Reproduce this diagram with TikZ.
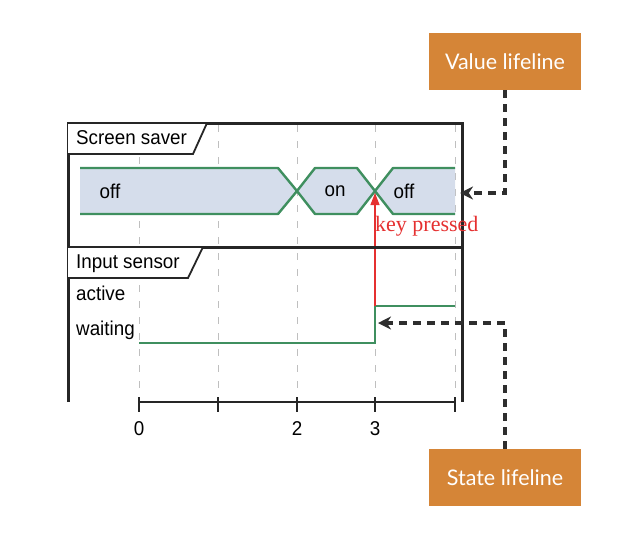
\documentclass[tikz,border=0pt]{standalone}
\usepackage{fontspec}
\setmainfont{Liberation Sans}[FakeStretch=0.94]
\newfontfamily\calloutfont{Lato}
\newfontfamily\notefont{Liberation Serif}
\usetikzlibrary{positioning,arrows.meta}
\definecolor{bandfill}{HTML}{D5DDEB}
\definecolor{bandline}{HTML}{3F8F5F}
\definecolor{callout}{HTML}{D58537}
\definecolor{ink}{HTML}{2E2E2E}
\definecolor{keyred}{HTML}{E53030}

\begin{document}
\begin{tikzpicture}[
    x=1pt, y=-1pt,
    font=\fontsize{20}{22}\selectfont,
    frame/.style={draw=black!85, line width=3pt},
    tab/.style={draw=black!85, line width=1.8pt, fill=white},
    gridline/.style={draw=black!25, line width=0.8pt, dash pattern=on 7pt off 9pt},
    bandedge/.style={draw=bandline, line width=2.4pt, line join=round},
    steptrace/.style={draw=bandline, line width=2.6pt},
    lanetext/.style={anchor=west, inner sep=0pt},
    calloutbox/.style={fill=callout, text=white, minimum width=152pt, minimum height=57pt, font=\calloutfont\fontsize{21.5}{23}\selectfont},
    lifeline/.style={draw=ink, line width=3.4pt, dash pattern=on 8pt off 6pt, -{Stealth[length=13pt, width=13pt]}}
]
\useasboundingbox (0,0) rectangle (629,550);

% ====================
%     Grid and axis
% ====================
\foreach \t in {139,218,297,375,455}{
  \draw[gridline] (\t,125) -- (\t,396);
  \draw[line width=2.6pt, black!85] (\t,397) -- (\t,412);
}
\draw[line width=2.8pt, black!85] (139,402) -- (455,402);
\node (t0) at (139,429) {0};
\node (t2) at (297,429) {2};
\node (t3) at (375,429) {3};

% ====================
%     Screen saver
% ====================
\fill[bandfill] (80,168) -- (278,168) -- (297,191) -- (278,214) -- (80,214) -- cycle;
\draw[bandedge] (80,168) -- (278,168) -- (297,191) -- (278,214) -- (80,214);
\filldraw[bandedge, fill=bandfill] (297,191) -- (315,168) -- (357,168) -- (375,191) -- (357,214) -- (315,214) -- cycle;
\fill[bandfill] (375,191) -- (393,168) -- (455,168) -- (455,214) -- (393,214) -- cycle;
\draw[bandedge] (455,168) -- (393,168) -- (375,191) -- (393,214) -- (455,214);

\node (off_a) at (110,191) {off};
\node (on_b) at (335,191) {on};
\node (off_c) at (404,191) {off};

% ====================
%     Input sensor
% ====================
\draw[steptrace] (139,343) -- (375,343) -- (375,306) -- (455,306);
\node[lanetext] (active) at (76,293) {active};
\node[lanetext] (waiting) at (76,330) {waiting};

% Key pressed message
\coordinate (key_from) at (375,306);
\coordinate (key_to) at (375,193);
\draw[keyred, line width=1.2pt, -{Triangle[length=12pt, width=9pt]}] (key_from) -- (key_to);

% ====================
%     Frame and tabs
% ====================
\draw[frame] (68,402) -- (68,123) -- (462,123) -- (462,402);
\draw[frame] (68,247) -- (462,247);
\draw[tab] (68,123) -- (207,123) -- (193,154) -- (68,154);
\draw[tab] (68,247) -- (203,247) -- (188,278) -- (68,278);
\node[lanetext] (saver_name) at (76,138) {Screen saver};
\node[lanetext] (sensor_name) at (76,264) {Input sensor};
\node[anchor=base west, inner sep=0pt, text=keyred, font=\notefont\fontsize{22}{24}\selectfont] (key_label) at (375,231) {key pressed};

% ====================
%     Callouts
% ====================
\node[calloutbox] (value_box) at (505,61.5) {Value lifeline};
\node[calloutbox] (state_box) at (505,477.5) {State lifeline};
\coordinate (value_tip) at (460,193);
\coordinate (state_tip) at (378,323);
\draw[lifeline] (value_box.south) |- (value_tip);
\draw[lifeline] (state_box.north) |- (state_tip);

\end{tikzpicture}
\end{document}
